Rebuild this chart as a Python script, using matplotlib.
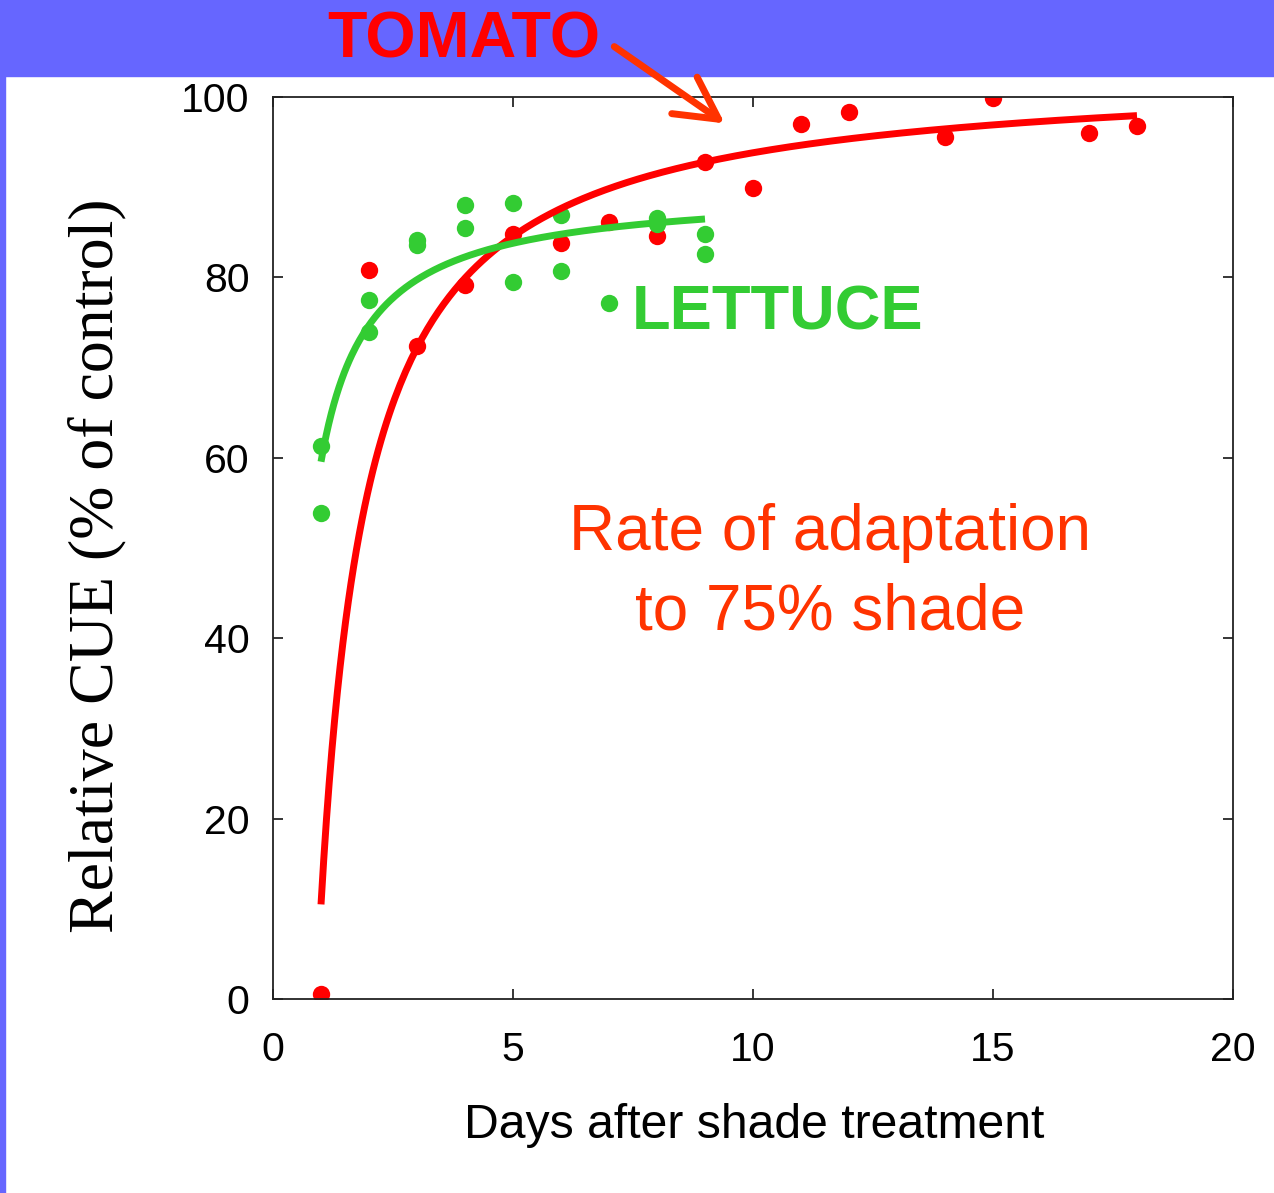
import matplotlib
matplotlib.use("Agg")
import matplotlib.pyplot as plt
import numpy as np
from matplotlib.patches import Rectangle, FancyArrowPatch

# Relative CUE (% of control) after moving plants to 75% shade
tomato_days = [1, 2, 3, 4, 5, 6, 7, 8, 9, 10, 11, 12, 14, 15, 17, 18]
tomato_cue = [0.55, 80.8, 72.4, 79.2, 84.8, 83.8, 86.1, 84.6, 92.8, 89.9,
              97.0, 98.3, 95.6, 99.9, 96.0, 96.8]

lettuce_days = [1, 1, 2, 2, 3, 3, 4, 4, 5, 5, 6, 6, 7, 8, 8, 9, 9]
lettuce_cue = [61.3, 53.9, 77.5, 73.9, 84.1, 83.6, 88.0, 85.5, 88.3, 79.5,
               86.9, 80.7, 77.2, 86.6, 85.9, 84.8, 82.6]

x_ticks = [0, 5, 10, 15, 20]
y_ticks = [0, 20, 40, 60, 80, 100]

RED = "#ff0000"
GREEN = "#33cc33"
ORANGE = "#ff3300"
BANNER = "#6666ff"

plt.rcParams["font.family"] = ["Liberation Sans", "DejaVu Sans"]


def hyperbolic_fit(x, y, x_end):
    # least squares fit of y = a + b / x
    x = np.asarray(x, dtype=float)
    b, a = np.polyfit(1.0 / x, np.asarray(y, dtype=float), 1)
    xs = np.linspace(x.min(), x_end, 300)
    return xs, a + b / xs


fig = plt.figure(figsize=(12.74, 11.93), dpi=100)
fig.add_artist(Rectangle((0, 0.9363), 1, 0.0637, transform=fig.transFigure,
                         color=BANNER, zorder=-1))
fig.add_artist(Rectangle((0, 0), 0.004, 1, transform=fig.transFigure,
                         color=BANNER, zorder=-1))

ax = fig.add_axes([0.2143, 0.1626, 0.7535, 0.7561])

ax.plot(tomato_days, tomato_cue, "o", color=RED, ms=12.5, mec="none", zorder=2)
ax.plot(lettuce_days, lettuce_cue, "o", color=GREEN, ms=12.5, mec="none", zorder=2)

tx, ty = hyperbolic_fit(tomato_days, tomato_cue, 18)
lx, ly = hyperbolic_fit(lettuce_days, lettuce_cue, 9)
ax.plot(tx, ty, color=RED, lw=5, solid_capstyle="butt", zorder=3)
ax.plot(lx, ly, color=GREEN, lw=5, solid_capstyle="butt", zorder=4)

ax.set_xlim(0, 20)
ax.set_ylim(0, 100)
ax.set_xticks(x_ticks)
ax.set_yticks(y_ticks)
ax.tick_params(axis="both", direction="in", length=7, width=1.1,
               top=True, right=True, labelsize=29.5)
ax.tick_params(axis="x", pad=23)
ax.tick_params(axis="y", pad=17)
for s in ax.spines.values():
    s.set_linewidth(1.3)
    s.set_color("#222222")

fig.text(0.088, 0.5256, "Relative CUE (% of control)", rotation=90,
         rotation_mode="anchor", ha="center", va="baseline", fontsize=46,
         family=["Liberation Serif", "DejaVu Serif"])
fig.text(0.5922, 0.0461, "Days after shade treatment", ha="center",
         va="baseline", fontsize=34.7)

fig.text(0.3642, 0.9522, "TOMATO", ha="center", va="baseline", fontsize=46.5,
         fontweight="bold", color=RED, zorder=5)
ax.text(7.48, 74.2, "LETTUCE", ha="left", va="baseline", fontsize=45.5,
        fontweight="bold", color=GREEN)
ax.text(11.6, 41.0, "Rate of adaptation\nto 75% shade", ha="center",
        va="baseline", fontsize=46, color=ORANGE, linespacing=1.4)

arrow = FancyArrowPatch((612 / 1274, 1 - 45 / 1193), (727 / 1274, 1 - 125 / 1193),
                        transform=fig.transFigure, arrowstyle="->,head_length=1.5,head_width=0.8",
                        mutation_scale=20, color=ORANGE, lw=5, capstyle="round",
                        joinstyle="round", zorder=6)
fig.add_artist(arrow)

fig.savefig("out.png", dpi=100, facecolor="white")
